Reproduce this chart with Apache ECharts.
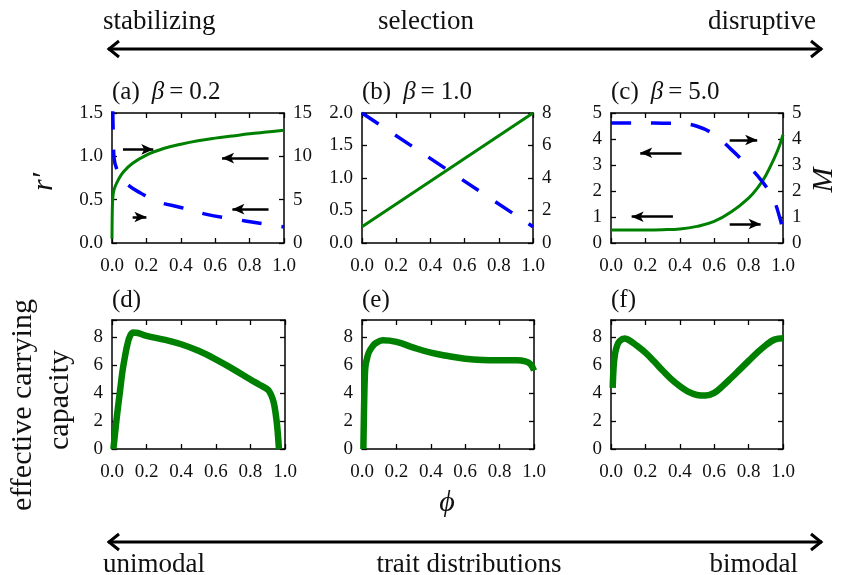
<!DOCTYPE html>
<html lang="en">
<head>
<meta charset="UTF-8">
<title>selection</title>
<script src="https://cdn.jsdelivr.net/npm/echarts@6/dist/echarts.min.js"></script>
</head>
<body style="margin:0">
<div id="main" style="width:841px;height:575px;"></div>
<script>
// ---- data ----
// (a) beta = 0.2
var phiRA = [0, 0.002, 0.005, 0.01, 0.02, 0.037, 0.066, 0.12, 0.2, 0.3, 0.4, 0.5, 0.6, 0.7, 0.8, 0.9, 1.0];
var rA    = [0.05, 0.4, 0.53, 0.6, 0.66, 0.73, 0.82, 0.92, 1.015, 1.09, 1.14, 1.18, 1.21, 1.235, 1.26, 1.28, 1.30];
var phiMA = [0, 0.004, 0.008, 0.012, 0.03, 0.056, 0.1, 0.163, 0.26, 0.4, 0.55, 0.7, 0.85, 1.0];
var mA    = [20, 15.5, 12, 9.8, 8.4, 7.5, 6.6, 5.8, 4.8, 4.1, 3.3, 2.8, 2.3, 1.85];
// (b) beta = 1.0
var phiB = [0, 1];
var rB   = [0.25, 2.0];
var mB   = [8, 1];
// (c) beta = 5.0
var phiC = [0, 0.1, 0.2, 0.3, 0.4, 0.5, 0.6, 0.7, 0.8, 0.85, 0.9, 0.95, 0.98, 1.0];
var rC   = [0.5, 0.5, 0.5, 0.51, 0.54, 0.64, 0.83, 1.2, 1.73, 2.1, 2.6, 3.27, 3.75, 4.17];
var mC   = [4.62, 4.62, 4.62, 4.61, 4.6, 4.49, 4.17, 3.59, 2.95, 2.6, 2.18, 1.6, 1.0, 0.5];
// (d)-(f) effective carrying capacity
var phiD = [0.008, 0.02, 0.03, 0.046, 0.06, 0.075, 0.09, 0.104, 0.123, 0.15, 0.2, 0.3, 0.4, 0.5, 0.6, 0.7, 0.8, 0.85, 0.9, 0.92, 0.935, 0.945, 0.955, 0.965];
var kD   = [0, 1.4, 2.5, 4.1, 5.5, 6.6, 7.5, 8.05, 8.3, 8.27, 8.07, 7.8, 7.47, 7.0, 6.4, 5.7, 4.96, 4.6, 4.24, 3.85, 3.3, 2.6, 1.6, 0];
var phiE = [0.008, 0.012, 0.016, 0.02, 0.03, 0.04, 0.06, 0.08, 0.12, 0.2, 0.3, 0.4, 0.5, 0.6, 0.7, 0.8, 0.9, 0.95, 0.98, 1.0];
var kE   = [0, 3, 5, 5.9, 6.5, 6.9, 7.3, 7.55, 7.75, 7.64, 7.23, 6.87, 6.63, 6.44, 6.35, 6.33, 6.33, 6.25, 6.05, 5.6];
var phiF = [0.01, 0.015, 0.023, 0.035, 0.05, 0.08, 0.1, 0.15, 0.2, 0.25, 0.3, 0.35, 0.4, 0.45, 0.5, 0.55, 0.6, 0.65, 0.7, 0.75, 0.8, 0.85, 0.9, 0.95, 1.0];
var kF   = [4.36, 5.8, 6.75, 7.35, 7.7, 7.88, 7.8, 7.37, 6.87, 6.25, 5.6, 4.98, 4.48, 4.08, 3.85, 3.81, 4.0, 4.5, 5.08, 5.68, 6.28, 6.87, 7.4, 7.8, 7.9];
// small black arrows [x1, y1, x2, y2] in data units of the left axis
var arrowsA = [[0.064, 1.08, 0.24, 1.08], [0.91, 0.98, 0.64, 0.98], [0.12, 0.30, 0.20, 0.30], [0.91, 0.39, 0.70, 0.39]];
var arrowsC = [[0.41, 3.47, 0.17, 3.47], [0.69, 3.96, 0.85, 3.96], [0.36, 1.01, 0.12, 1.01], [0.69, 0.73, 0.87, 0.73]];

var FONT = 'Liberation Serif';
var GREEN = '#008000', BLUE = '#0000ff';

function pairs(xs, ys) { return xs.map(function (x, i) { return [x, ys[i]]; }); }

var myChart = echarts.init(document.getElementById('main'));

var grids = [
    {left: 112, top: 113, width: 172, height: 130},
    {left: 362, top: 113, width: 171, height: 130},
    {left: 611, top: 113, width: 172, height: 130},
    {left: 112, top: 320, width: 173, height: 129},
    {left: 362, top: 320, width: 172, height: 129},
    {left: 611, top: 320, width: 172, height: 129}
];

var lineStyleAxis = {color: '#000', width: 1.5};

function xAx(g, top) {
    return {
        type: 'value', gridIndex: g, min: 0, max: 1, interval: 0.2,
        position: top ? 'top' : 'bottom',
        axisLine: {show: true, onZero: false, lineStyle: lineStyleAxis},
        axisTick: {show: true, inside: true, length: 5, lineStyle: {color: '#000', width: 1.3}},
        axisLabel: {show: !top, margin: 14, fontFamily: FONT, fontSize: 19, color: '#111',
            formatter: function (v) { return v.toFixed(1); }},
        splitLine: {show: false}
    };
}

function yAx(g, pos, max, step, dec, showLabel) {
    return {
        type: 'value', gridIndex: g, min: 0, max: max, interval: step, position: pos,
        axisLine: {show: true, onZero: false, lineStyle: lineStyleAxis},
        axisTick: {show: true, inside: true, length: 5, lineStyle: {color: '#000', width: 1.3}},
        axisLabel: {show: showLabel, margin: 9, fontFamily: FONT, fontSize: 19, color: '#111',
            formatter: function (v) {
                var k = v / step;
                return Math.abs(k - Math.round(k)) < 1e-6 ? v.toFixed(dec) : '';
            }},
        splitLine: {show: false}
    };
}

var xAxes = [], yAxes = [];
for (var g = 0; g < 6; g++) { xAxes.push(xAx(g, false)); xAxes.push(xAx(g, true)); }
yAxes.push(yAx(0, 'left', 1.5, 0.5, 1, true), yAx(0, 'right', 15, 5, 0, true));
yAxes.push(yAx(1, 'left', 2.0, 0.5, 1, true), yAx(1, 'right', 8, 2, 0, true));
yAxes.push(yAx(2, 'left', 5, 1, 0, true), yAx(2, 'right', 5, 1, 0, true));
for (g = 3; g < 6; g++) { yAxes.push(yAx(g, 'left', 9.2, 2, 0, true), yAx(g, 'right', 9.2, 2, 0, false)); }

function arrowMarks(list) {
    return {
        silent: true, animation: false,
        symbol: ['none', 'arrow'], symbolSize: [8, 12],
        label: {show: false},
        lineStyle: {color: '#000', width: 2.5, type: 'solid'},
        emphasis: {disabled: true},
        data: list.map(function (a) { return [{coord: [a[0], a[1]]}, {coord: [a[2], a[3]]}]; })
    };
}

function curve(g, right, xs, ys, color, width, dashed, extra) {
    var s = {
        type: 'line', xAxisIndex: 2 * g, yAxisIndex: 2 * g + (right ? 1 : 0),
        data: pairs(xs, ys), showSymbol: false, smooth: 0.4,
        lineStyle: {color: color, width: width, type: dashed ? [20, 20] : 'solid', cap: 'butt', join: 'round'},
        itemStyle: {color: color}, z: dashed ? 4 : 3, animation: false, silent: true
    };
    if (extra) s.markLine = extra;
    return s;
}

var series = [
    curve(0, false, phiRA, rA, GREEN, 3, false, arrowMarks(arrowsA)),
    curve(0, true, phiMA, mA, BLUE, 3.5, true),
    curve(1, false, phiB, rB, GREEN, 3, false),
    curve(1, true, phiB, mB, BLUE, 3.5, true),
    curve(2, false, phiC, rC, GREEN, 3, false, arrowMarks(arrowsC)),
    curve(2, true, phiC, mC, BLUE, 3.5, true),
    curve(3, false, phiD, kD, GREEN, 6.5, false),
    curve(4, false, phiE, kE, GREEN, 6.5, false),
    curve(5, false, phiF, kF, GREEN, 6.5, false)
];

function txt(x, y, s, size, opt) {
    opt = opt || {};
    return {
        type: 'text', x: x, y: y, rotation: opt.rot || 0, silent: true,
        style: {
            text: s, fill: '#111',
            font: (opt.italic ? 'italic ' : '') + size + 'px "' + FONT + '", "DejaVu Serif"',
            textAlign: opt.align || 'left', textVerticalAlign: 'middle'
        }
    };
}

function panelTitle(x, y, tag, beta) {
    var base = {fontFamily: FONT, fontSize: 25, fill: '#111'};
    return {
        type: 'text', x: x, y: y, silent: true,
        style: {
            text: '{t|' + tag + '}{b|β}{e|=}{t|' + beta + '}',
            textVerticalAlign: 'middle',
            rich: {
                t: base,
                b: {fontFamily: FONT, fontSize: 25, fontStyle: 'italic', fill: '#111', padding: [0, 3, 0, 12]},
                e: {fontFamily: FONT, fontSize: 25, fill: '#111', padding: [0, 6, 0, 2]}
            }
        }
    };
}

function bigArrow(y) {
    var st = {stroke: '#000', lineWidth: 3, fill: null};
    return [
        {type: 'polyline', silent: true, shape: {points: [[108, y], [822, y]]}, style: st},
        {type: 'polyline', silent: true, shape: {points: [[119, y - 8], [109, y], [119, y + 8]]}, style: st},
        {type: 'polyline', silent: true, shape: {points: [[811, y - 8], [821, y], [811, y + 8]]}, style: st}
    ];
}

var graphics = [].concat(
    bigArrow(49), bigArrow(542),
    [
        txt(103, 22, 'stabilizing', 27),
        txt(426, 22, 'selection', 27, {align: 'center'}),
        txt(816, 22, 'disruptive', 27, {align: 'right'}),
        txt(103, 565, 'unimodal', 27),
        txt(469, 565, 'trait distributions', 27, {align: 'center'}),
        txt(798, 565, 'bimodal', 27, {align: 'right'}),
        panelTitle(112, 92, '(a)', '0.2'),
        panelTitle(362, 92, '(b)', '1.0'),
        panelTitle(611, 92, '(c)', '5.0'),
        txt(112, 300, '(d)', 25),
        txt(362, 300, '(e)', 25),
        txt(611, 300, '(f)', 25),
        txt(44, 182, 'r′', 30, {italic: true, rot: Math.PI / 2, align: 'center'}),
        txt(824, 180, 'M', 30, {italic: true, rot: Math.PI / 2, align: 'center'}),
        txt(23, 405, 'effective carrying', 30, {rot: Math.PI / 2, align: 'center'}),
        txt(60, 400, 'capacity', 30, {rot: Math.PI / 2, align: 'center'}),
        txt(447, 503, 'ϕ', 30, {italic: true, align: 'center'})
    ]
);

var option = {
    backgroundColor: '#fff',
    animation: false,
    grid: grids,
    xAxis: xAxes,
    yAxis: yAxes,
    series: series,
    graphic: graphics
};
myChart.setOption(option);
</script>
</body>
</html>
